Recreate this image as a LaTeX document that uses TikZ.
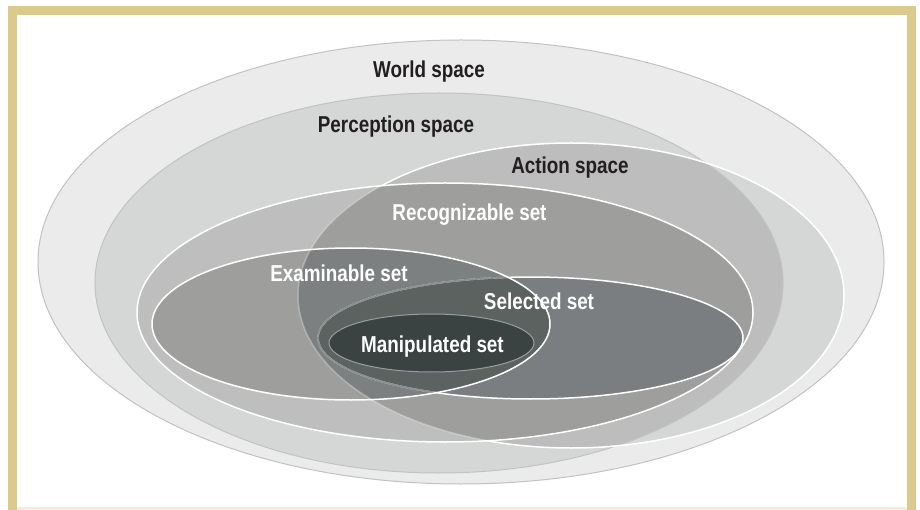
\documentclass[tikz,border=0pt]{standalone}
\usepackage{fontspec}
\newfontfamily\lblfont{Liberation Sans}[FakeStretch=0.82]
\definecolor{framegold}{HTML}{DBCA8B}
\definecolor{framepale}{HTML}{F1ECDD}
\definecolor{cedge}{HTML}{C2C2C2}
\definecolor{cworld}{HTML}{EBEBEB}
\definecolor{cpers}{HTML}{D5D6D6}
\definecolor{cact}{HTML}{BCBDBC}
\definecolor{crec}{HTML}{BDBEBD}
\definecolor{crecact}{HTML}{9E9E9D}
\definecolor{cexm}{HTML}{9E9E9D}
\definecolor{cexmact}{HTML}{7D8081}
\definecolor{csel}{HTML}{7A7E80}
\definecolor{cselexm}{HTML}{5B6260}
\definecolor{cman}{HTML}{3B4342}
\definecolor{cmanedge}{HTML}{989E9D}
\definecolor{lbldark}{HTML}{231F20}
\newcommand{\wldsp}{(461,262) ellipse [x radius=423, y radius=222]}
\newcommand{\perspc}{(439,283) ellipse [x radius=344, y radius=190]}
\newcommand{\actspc}{(571,295.5) ellipse [x radius=273, y radius=152.5]}
\newcommand{\recset}{(445,312.5) ellipse [x radius=308, y radius=129.5]}
\newcommand{\exmset}{(351,324) ellipse [x radius=199, y radius=76]}
\newcommand{\selset}{(530.5,338) ellipse [x radius=212.5, y radius=61]}
\newcommand{\manset}{(431.5,343) ellipse [x radius=102.5, y radius=29]}
\begin{document}
\begin{tikzpicture}[x=1pt, y=-1pt,
  darklbl/.style={font=\lblfont\bfseries\fontsize{23}{25}\selectfont, text=lbldark, anchor=base, inner sep=0pt},
  lightlbl/.style={darklbl, text=white},
  rim/.style={white, line width=1.5pt},
  faintrim/.style={white, opacity=0.3, line width=1.5pt}]
\useasboundingbox (0,0) rectangle (920,510);
\fill[framepale] (17,507) rectangle (907,510);
\draw[framegold, line width=9pt] (12.5,510) -- (12.5,10.5) -- (911.5,10.5) -- (911.5,510);
\fill[cworld] \wldsp;
\draw[cedge, line width=1pt] \wldsp;
\fill[cpers] \perspc;
\fill[cpers] \actspc;
\begin{scope}
\clip \perspc;
\fill[cact] \actspc;
\end{scope}
\draw[cedge, line width=1pt] \perspc;
\draw[rim] \actspc;
\fill[crec] \recset;
\begin{scope}
\clip \actspc;
\fill[crecact] \recset;
\end{scope}
\fill[cexm] \exmset;
\begin{scope}
\clip \actspc;
\fill[cexmact] \exmset;
\end{scope}
\begin{scope}
\clip \recset;
\draw[faintrim] \actspc;
\end{scope}
\draw[rim] \recset;
\fill[csel] \selset;
\begin{scope}
\clip \exmset;
\fill[cselexm] \selset;
\end{scope}
\draw[rim] \selset;
\begin{scope}
\clip \exmset;
\draw[cselexm, line width=1.6pt] \selset;
\draw[faintrim] \selset;
\end{scope}
\draw[rim] \exmset;
\fill[cman] \manset;
\draw[cmanedge, line width=1pt] \manset;
\node[darklbl] (world) at (429,78) {World space};
\node[darklbl] (perception) at (396,133) {Perception space};
\node[darklbl] (action) at (570,174) {Action space};
\node[lightlbl] (recognizable) at (469.5,221) {Recognizable set};
\node[lightlbl] (examinable) at (339,282) {Examinable set};
\node[lightlbl] (selected) at (539,309) {Selected set};
\node[lightlbl] (manipulated) at (432.5,352) {Manipulated set};
\end{tikzpicture}
\end{document}
